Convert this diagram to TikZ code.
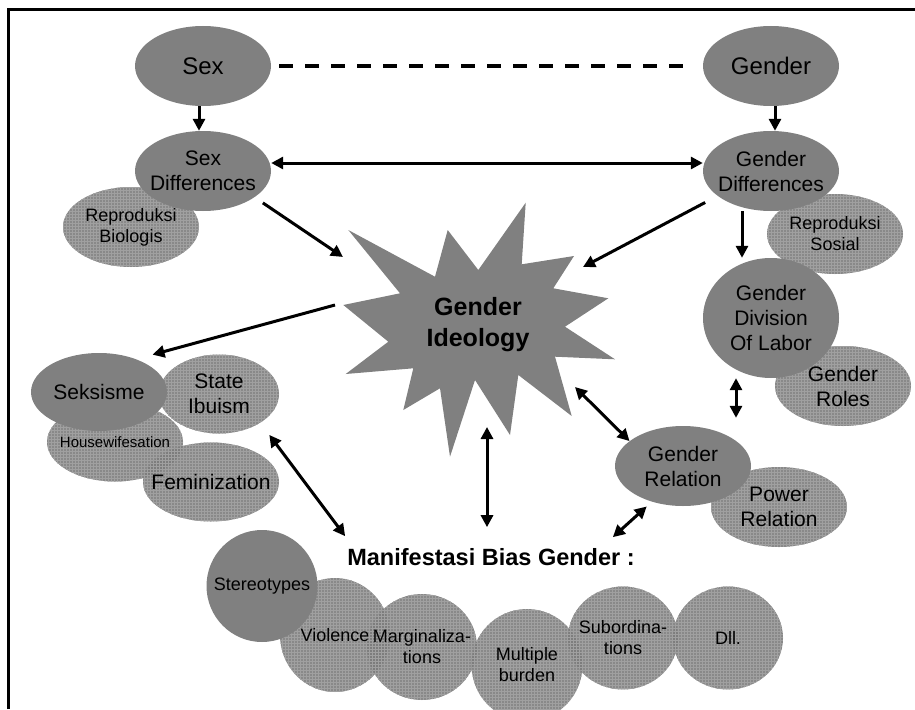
\documentclass[tikz,border=0pt]{standalone}
\usepackage{fontspec}
\setmainfont{Liberation Sans}
\usetikzlibrary{shapes.geometric, arrows.meta, patterns}
\definecolor{blobgray}{RGB}{128,128,128}
\definecolor{meshgray}{RGB}{124,124,124}
\definecolor{meshline}{RGB}{160,160,160}
\tikzset{
  btxt/.style={font=\fontsize{24}{28}\selectfont, align=center, inner sep=0pt},
  txt/.style={font=\fontsize{21}{25}\selectfont, align=center, inner sep=0pt},
  stxt/.style={font=\fontsize{18}{21}\selectfont, align=center, inner sep=0pt},
  blob/.style={ellipse, inner sep=0pt, fill=blobgray, minimum width=136pt, minimum height=80pt},
  mesh/.style={blob, fill=meshgray, fill opacity=.9,
               postaction={pattern=grid, pattern color=meshline}},
  flow/.style={-{Triangle[length=12pt, width=12pt]}, line width=3pt},
  dflow/.style={{Triangle[length=12pt, width=12pt]}-{Triangle[length=12pt, width=12pt]}, line width=3pt},
  link/.style={line width=4pt, dash pattern=on 14pt off 12pt},
}

\begin{document}
\begin{tikzpicture}[x=1pt, y=-1pt]
  \useasboundingbox (0,0) rectangle (915,709);
  \clip (0,0) rectangle (915,709);
  \draw[line width=3pt] (8,709) -- (8,10) -- (915,10);

  % textured ellipses first
  \node[mesh, label={[stxt]center:Reproduksi\\Biologis}] (repbio) at (131,227) {};
  \node[mesh, label={[stxt]center:Reproduksi\\Sosial}] (repsos) at (835,234) {};
  \node[mesh, label={[txt]center:Gender\\Roles}] (groles) at (843,386) {};
  \node[mesh, label={[txt]center:Power\\Relation}] (power) at (779,507) {};
  \node[mesh, minimum width=120pt, minimum height=79pt,
        label={[txt]center:State\\Ibuism}] (stib) at (219,394) {};
  \node[mesh, minimum height=79pt,
        label={[font=\fontsize{15}{18}\selectfont]center:Housewifesation}] (house) at (115,442) {};
  \node[mesh, minimum height=79pt, label={[txt]center:Feminization}] (femi) at (211,482) {};
  \node[mesh, minimum width=110pt, minimum height=114pt,
        label={[stxt]center:Violence}] (viol) at (335,635) {};
  \node[mesh, minimum width=110pt, minimum height=106pt,
        label={[stxt]center:Marginaliza-\\tions}] (marg) at (422,647) {};
  \node[mesh, minimum width=111pt, minimum height=112pt,
        label={[stxt]center:Multiple\\burden}] (multi) at (527,665) {};
  \node[mesh, minimum width=110pt, minimum height=103pt,
        label={[stxt]center:Subordina-\\tions}] (subord) at (623,638) {};
  \node[mesh, minimum width=110pt, minimum height=103pt,
        label={[stxt]center:Dll.}] (dll) at (728,638) {};

  % solid ellipses
  \node[blob, label={[btxt]center:Sex}] (sex) at (203,66) {};
  \node[blob, label={[btxt]center:Gender}] (gender) at (771,66) {};
  \node[blob, label={[txt]center:Sex\\Differences}] (sexdiff) at (203,171) {};
  \node[blob, label={[txt]center:Gender\\Differences}] (gendiff) at (771,171) {};
  \node[blob, minimum height=120pt,
        label={[txt]center:Gender\\Division\\Of Labor}] (gdl) at (771,318) {};
  \node[blob, label={[txt]center:Gender\\Relation}] (grel) at (683,466) {};
  \node[blob, minimum height=78pt, label={[txt]center:Seksisme}] (seks) at (99,392) {};
  \node[blob, minimum width=111pt, minimum height=112pt,
        label={[stxt]center:Stereotypes}] (stereo) at (262,586) {};

  % star
  \fill[blobgray] (348.3,230) -- (435,276.7) -- (447.7,230) -- (478.3,270)
    -- (525.7,202.7) -- (521.7,264.3) -- (574,256) -- (553.3,288.3)
    -- (608.3,298.3) -- (565,326.7) -- (615,359.3) -- (555,356.7)
    -- (571.7,416) -- (518.3,375) -- (510,435) -- (475,380)
    -- (450,456.7) -- (440,388.3) -- (403.3,410) -- (413.3,368.3)
    -- (345.7,374) -- (388.3,341.7) -- (343.3,305) -- (400,293.3) -- cycle;
  \node[font=\bfseries\fontsize{25}{31}\selectfont, align=center, inner sep=0pt]
    (ideo) at (478,325) {Gender\\Ideology};
  \coordinate (iSD) at (343,257);
  \coordinate (iGD) at (583,267);
  \coordinate (iW) at (335,305);
  \coordinate (iS) at (487,427);
  \coordinate (iSE) at (575,387);

  \node[font=\bfseries\fontsize{23.5}{27}\selectfont, inner sep=0pt]
    (manif) at (491,557) {Manifestasi Bias Gender :};

  % connectors
  \draw[link, shorten <=8pt, shorten >=16pt] (sex) -- (gender);
  \draw[flow] ([xshift=-4pt]sex.south) -- ([xshift=-4pt]sexdiff.north);
  \draw[flow] ([xshift=4pt]gender.south) -- ([xshift=4pt]gendiff.north);
  \draw[dflow] ([yshift=8pt]sexdiff.east) -- ([yshift=8pt]gendiff.west);
  \draw[flow, shorten <=10pt] (sexdiff.-27) -- (iSD);
  \draw[flow, shorten <=14pt] (gendiff.-155) -- (iGD);
  \draw[flow] ([xshift=-29pt]gendiff.south) -- ([xshift=-29pt]gdl.north);
  \draw[flow] (iW) -- ([xshift=15pt, yshift=5pt]seks.40);
  \draw[dflow, shorten >=21pt] (iS) -- (iS |- manif.north);
  \draw[dflow] (iSE) -- (grel.155);
  \draw[dflow, shorten >=8pt] ([xshift=-35pt]gdl.south) -- ([xshift=53pt]grel.north);
  \draw[dflow, shorten <=7pt] (grel.-131) -- ([shift={(-22pt,11pt)}]manif.north east);
  \draw[dflow, shorten <=15pt] (stib.-35) -- ([shift={(-2pt,12pt)}]manif.north west);
\end{tikzpicture}
\end{document}
